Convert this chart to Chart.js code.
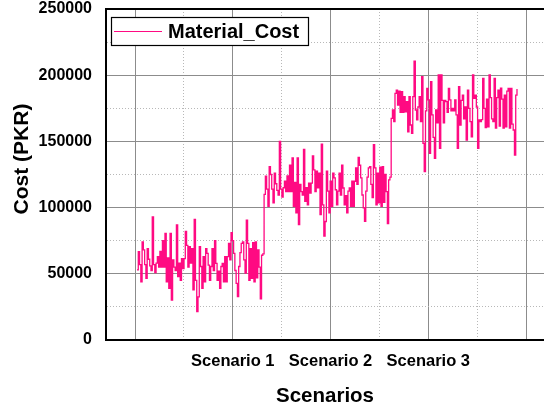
<!DOCTYPE html>
<html>
<head>
<meta charset="utf-8">
<script src="https://cdn.jsdelivr.net/npm/chart.js@4"></script>
<style>
  html, body { margin: 0; padding: 0; background: #fff; overflow: hidden; }
  #wrap { width: 544px; height: 409px; }
</style>
</head>
<body>
<div id="wrap"><canvas id="c" width="544" height="409"></canvas></div>
<script>
// Material cost per simulation run, 100 runs for each scenario (PKR)
const scenario1Cost = [
  53000, 66700, 57000, 44000, 74000, 68000, 57000, 46500, 69000, 61000,
  56000, 52500, 93000, 57000, 51000, 58000, 63000, 55000, 67000, 55000,
  75000, 55000, 80500, 44000, 62000, 39000, 80500, 30200, 60500, 55000,
  52500, 87000, 47800, 58000, 45000, 61500, 54000, 61500, 82000, 71500,
  55000, 70500, 58000, 69000, 37800, 91000, 45000, 21400, 32500, 70500,
  55500, 39000, 62900, 44000, 69000, 65500, 56500, 45000, 55500, 69000,
  52500, 75000, 57800, 45000, 52000, 39000, 55500, 57800, 44000, 62900,
  44000, 62900, 73000, 60500, 81000, 75000, 65500, 52500, 42800, 32700,
  55500, 66000, 73000, 74000, 60500, 50500, 90600, 73000, 45000, 69000,
  46500, 73500, 44000, 74000, 47000, 68000, 55000, 31000, 64000, 65000
];
const scenario2Cost = [
  110000, 123700, 114000, 101000, 131000, 125000, 114000, 103500, 126000, 118000,
  113000, 109500, 150000, 114000, 108000, 115000, 120000, 112000, 124000, 112000,
  132000, 112000, 137500, 101000, 119000, 96000, 137500, 87200, 117500, 112000,
  109500, 144000, 104800, 115000, 102000, 118500, 111000, 118500, 139000, 128500,
  112000, 127500, 115000, 126000, 94800, 148000, 102000, 78400, 89500, 127500,
  112500, 96000, 119900, 101000, 126000, 122500, 113500, 102000, 112500, 126000,
  109500, 132000, 114800, 102000, 109000, 96000, 112500, 114800, 101000, 119900,
  101000, 119900, 130000, 117500, 138000, 132000, 122500, 109500, 99800, 89700,
  112500, 123000, 130000, 131000, 117500, 107500, 147600, 130000, 102000, 126000,
  103500, 130500, 101000, 131000, 104000, 125000, 112000, 88000, 121000, 123000
];
const scenario3Cost = [
  167400, 173700, 164900, 186300, 188800, 177500, 188000, 172000, 187500, 172000,
  183800, 172400, 180000, 157300, 183800, 162400, 156100, 183800, 210700, 173700,
  166200, 176000, 183800, 164900, 198900, 148600, 127100, 173000, 190100, 181300,
  141000, 195100, 170000, 153000, 137200, 173700, 164000, 200200, 144800, 200200,
  181000, 164000, 181000, 180000, 172000, 190000, 181300, 173000, 175000, 173000,
  181300, 170000, 144800, 191300, 162400, 181000, 185000, 167000, 176000, 151000,
  188800, 175000, 165000, 153500, 200200, 182500, 185000, 176000, 144800, 166200,
  165000, 166500, 197600, 175000, 160500, 182000, 161000, 200200, 183000, 167000,
  165000, 197600, 160000, 183000, 188800, 161500, 190300, 182000, 160000, 185000,
  161000, 188000, 190000, 160000, 190100, 163000, 158600, 139700, 185000, 189600
];

const seriesLabel = 'Material_Cost';
const scenarioLabels = ['Scenario 1', 'Scenario 2', 'Scenario 3'];
const xAxisTitle = 'Scenarios';
const yAxisTitle = 'Cost (PKR)';
const yTickValues = [0, 25000, 50000, 75000, 100000, 125000, 150000, 175000, 200000, 225000, 250000];

// vertical grid lines (in run-number units); every second one is a major line
const xGridRuns = [-0.57, 37.89, 76.35, 114.81, 153.27, 191.73, 230.19, 268.65, 307.11];
const xGridText = ['', '', scenarioLabels[0], '', scenarioLabels[1], '', scenarioLabels[2], '', ''];

const allCosts = [...scenario1Cost, ...scenario2Cost, ...scenario3Cost];
const points = allCosts.map((v, i) => ({ x: i + 1, y: v }));

const FONT = 'Liberation Sans, Arial, Helvetica, sans-serif';
const LINE_COLOR = '#ff0a82';

const overlay = {
  id: 'overlay',
  afterDraw(chart) {
    const ctx = chart.ctx;
    const ca = chart.chartArea;
    const ds = chart.data.datasets[0];

    // y-axis title
    ctx.save();
    ctx.translate(22, 159);
    ctx.rotate(-Math.PI / 2);
    ctx.fillStyle = '#000';
    ctx.font = 'bold 21px ' + FONT;
    ctx.textAlign = 'center';
    ctx.textBaseline = 'middle';
    ctx.fillText(yAxisTitle, 0, 0);
    ctx.restore();

    // boxed legend in the upper-left corner of the plot
    const bx = ca.left + 5, by = ca.top + 8, bw = 197, bh = 28;
    ctx.save();
    ctx.fillStyle = '#fff';
    ctx.fillRect(bx, by, bw, bh);
    ctx.strokeStyle = '#000';
    ctx.lineWidth = 1.2;
    ctx.strokeRect(bx + 0.5, by + 0.5, bw, bh);
    ctx.strokeStyle = ds.borderColor;
    ctx.lineWidth = 1;
    ctx.beginPath();
    ctx.moveTo(bx + 3, by + 14.5);
    ctx.lineTo(bx + 51, by + 14.5);
    ctx.stroke();
    ctx.fillStyle = '#000';
    ctx.font = 'bold 20px ' + FONT;
    ctx.textAlign = 'left';
    ctx.textBaseline = 'middle';
    ctx.fillText(ds.label, bx + 57, by + 15);
    ctx.restore();
  }
};

new Chart(document.getElementById('c'), {
  type: 'line',
  data: {
    datasets: [{
      label: seriesLabel,
      data: points,
      borderColor: LINE_COLOR,
      backgroundColor: LINE_COLOR,
      borderWidth: 1.3,
      pointRadius: 0,
      stepped: true,
      fill: false
    }]
  },
  options: {
    responsive: false,
    devicePixelRatio: 1,
    animation: false,
    layout: { padding: { top: 9, right: 0, left: 0, bottom: 0 } },
    plugins: {
      legend: { display: false },
      tooltip: { enabled: false }
    },
    scales: {
      x: {
        type: 'linear',
        min: -23.4,
        max: 321.25,
        afterBuildTicks: s => { s.ticks = xGridRuns.map(v => ({ value: v })); },
        afterFit: s => { s.height = 69; s.paddingLeft = 0; s.paddingRight = 0; },
        ticks: {
          autoSkip: false, maxRotation: 0, minRotation: 0, padding: 12,
          color: '#000',
          font: { family: FONT, size: 16.5, weight: 'bold' },
          callback: (v, i) => xGridText[i]
        },
        grid: {
          drawTicks: false,
          color: c => (c.index % 2 === 0 ? '#8c8c8c' : '#b8b8b8'),
          lineWidth: 1
        },
        border: { color: '#000', width: 2, dash: c => (c.index % 2 === 1 ? [1, 2] : []) },
        title: {
          display: true, text: xAxisTitle, color: '#000',
          font: { family: FONT, size: 20.5, weight: 'bold' },
          padding: { top: 4, bottom: 0 }
        }
      },
      y: {
        min: 0,
        max: 250000,
        afterBuildTicks: s => { s.ticks = yTickValues.map(v => ({ value: v })); },
        afterFit: s => { s.width = 106; s.paddingTop = 0; s.paddingBottom = 0; },
        ticks: {
          padding: 14, color: '#000',
          font: { family: FONT, size: 16, weight: 'bold' },
          callback: v => (v % 50000 === 0 ? String(v) : '')
        },
        grid: {
          drawTicks: false,
          color: c => (c.tick && c.tick.value === 250000 ? '#000' : (c.tick && c.tick.value % 50000 === 0 ? '#8c8c8c' : '#b8b8b8')),
          lineWidth: c => (c.tick && c.tick.value === 250000 ? 2 : 1)
        },
        border: { color: '#000', width: 2, dash: c => (c.tick && c.tick.value % 50000 !== 0 ? [1, 2] : []) },
        title: { display: false }
      }
    }
  },
  plugins: [overlay]
});
</script>
</body>
</html>
